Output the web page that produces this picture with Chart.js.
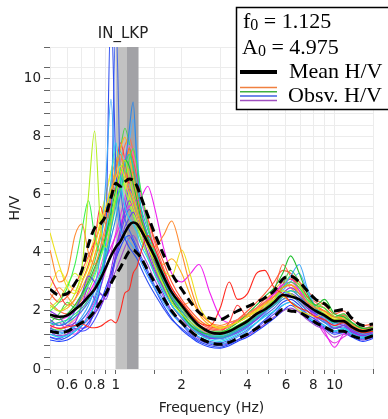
<!DOCTYPE html>
<html>
<head>
<meta charset="utf-8">
<script src="https://cdn.jsdelivr.net/npm/chart.js@4"></script>
<style>
  html, body { margin: 0; padding: 0; background: #fff; }
  #wrap { width: 388px; height: 419px; position: relative; }
</style>
</head>
<body>
<div id="wrap"><canvas id="hvChart"></canvas></div>
<script>
// station + peak values
const STATION = 'IN_LKP';
const F0 = 1.125;
const A0 = 4.975;
const BAND_EDGES = [1.0, 1.125, 1.27];   // f0 -/+ std window

// frequencies (Hz) shared by all curves
const FREQ = [0.5, 0.55, 0.6, 0.65, 0.7, 0.75, 0.8, 0.85, 0.9, 0.95, 1.0, 1.05, 1.1, 1.15, 1.2, 1.25, 1.3, 1.4, 1.5, 1.65, 1.8, 2.0, 2.2, 2.4, 2.7, 3.0, 3.3, 3.6, 4.0, 4.4, 4.8, 5.3, 5.8, 6.3, 6.9, 7.5, 8.2, 9.0, 10, 11, 12, 13.5, 15];

// mean H/V and mean*std, mean/std
const MEAN_HV  = [1.87,1.8,1.85,2.05,2.25,2.5,2.75,3.1,3.5,3.9,4.2,4.4,4.7,4.95,5.05,5.0,4.8,4.35,3.9,3.2,2.65,2.2,1.8,1.5,1.27,1.22,1.3,1.45,1.65,1.9,2.05,2.3,2.55,2.5,2.4,2.2,2.0,1.85,1.65,1.65,1.45,1.3,1.38];
const UPPER_HV = [2.75,2.55,2.6,2.95,3.4,4.3,4.85,5.0,5.3,5.9,6.4,6.3,6.45,6.55,6.5,6.3,5.95,5.3,4.7,3.95,3.3,2.75,2.3,1.95,1.75,1.7,1.85,2.0,2.15,2.3,2.45,2.7,3.1,3.2,3.0,2.7,2.4,2.25,2.0,2.05,1.75,1.5,1.55];
const LOWER_HV = [1.3,1.25,1.3,1.45,1.6,1.75,2.0,2.3,2.6,2.95,3.25,3.5,3.8,4.05,4.1,4.0,3.85,3.4,3.0,2.45,2.0,1.6,1.3,1.08,0.9,0.85,0.92,1.05,1.2,1.4,1.6,1.8,2.05,2.0,1.95,1.8,1.6,1.45,1.3,1.3,1.15,1.05,1.15];

// observed H/V windows
const OBS_01 = [1.5,1.4,1.45,1.5,1.55,1.45,1.42,1.47,1.6,1.7,1.59,2.0,2.62,2.73,3.3,3.53,4.0,4.6,4.2,3.4,2.8,2.3,1.9,1.6,1.5,2.1,3.0,2.4,2.6,3.3,3.4,2.8,2.6,2.3,2.1,2.0,1.8,1.7,1.5,1.6,1.4,1.25,1.3];
const OBS_02 = [4.1,3.0,3.3,4.6,5.0,4.0,3.6,4.2,5.0,6.0,6.8,7.4,6.8,6.2,5.8,5.4,5.0,4.4,4.2,4.6,5.1,4.0,2.8,2.0,1.6,1.5,1.6,1.7,1.9,2.1,2.3,2.5,2.8,2.9,2.6,2.3,2.1,2.0,1.8,1.7,1.5,1.35,1.4];
const OBS_03 = [4.7,3.6,2.8,2.6,3.0,3.5,4.2,5.0,5.6,6.2,6.6,7.0,6.5,6.0,5.6,5.2,4.8,4.2,3.8,3.4,3.2,4.1,3.2,2.2,1.6,1.4,1.5,1.6,1.8,2.0,2.2,2.4,2.5,2.3,2.0,1.9,1.8,1.9,1.7,1.6,1.5,1.3,1.3];
const OBS_04 = [2.2,2.0,2.2,2.6,3.5,6.0,8.2,5.0,4.2,5.0,6.0,6.8,7.2,6.6,6.0,5.5,5.0,4.3,3.6,2.9,2.3,1.9,1.6,1.4,1.25,1.2,1.3,1.45,1.7,1.9,2.1,2.4,2.7,2.6,2.4,2.2,2.0,1.9,1.7,1.7,1.5,1.3,1.4];
const OBS_05 = [1.8,1.7,1.9,2.2,2.6,3.0,3.5,4.0,4.6,5.4,6.2,6.8,7.2,7.0,6.4,5.8,5.2,4.5,3.8,3.0,2.4,1.9,1.5,1.3,1.2,1.25,1.4,1.6,1.9,2.2,2.5,2.8,3.3,3.9,3.3,2.6,2.2,2.4,1.9,1.8,1.6,1.4,1.45];
const OBS_06 = [2.0,2.3,2.8,3.6,4.8,5.8,4.6,4.0,4.5,5.2,5.8,6.2,6.6,7.2,7.6,7.0,6.2,5.0,4.0,3.2,2.6,2.1,1.7,1.45,1.3,1.3,1.35,1.5,1.7,1.9,2.1,2.4,2.8,3.0,2.8,2.4,2.2,2.1,1.8,1.9,1.6,1.4,1.35];
const OBS_07 = [1.5,1.6,1.7,1.9,2.1,2.4,2.8,3.3,4.0,4.8,5.6,6.4,7.0,7.4,7.0,6.3,5.6,4.8,4.1,3.3,2.6,2.0,1.6,1.35,1.15,1.1,1.2,1.35,1.55,1.8,2.0,2.2,2.5,2.7,2.6,2.3,2.1,1.8,1.6,1.7,1.5,1.3,1.35];
const OBS_08 = [1.2,1.1,1.15,1.3,1.5,1.8,2.2,3.0,4.5,6.5,7.8,6.5,5.6,5.2,5.0,4.7,4.3,3.8,3.3,2.7,2.2,1.8,1.45,1.2,1.0,0.95,1.05,1.2,1.4,1.6,1.8,2.0,2.2,2.3,2.1,1.8,1.6,1.5,1.3,1.4,1.2,1.1,1.2];
const OBS_09 = [1.3,1.2,1.3,1.5,1.8,2.2,2.8,4.0,6.5,9.3,6.0,4.8,4.6,4.4,4.2,4.0,3.7,3.2,2.8,2.3,1.9,1.55,1.3,1.1,0.9,0.85,0.95,1.1,1.3,1.6,1.9,2.3,2.8,3.2,3.6,2.8,2.1,1.7,1.3,1.4,1.2,1.05,1.15];
const OBS_10 = [1.6,1.5,1.6,1.8,2.0,2.3,2.7,3.2,3.8,4.5,5.2,6.0,7.0,8.2,9.2,7.0,5.6,4.6,3.9,3.1,2.5,2.0,1.6,1.3,1.1,1.05,1.15,1.3,1.5,1.75,2.0,2.3,2.6,2.7,2.5,2.2,1.95,1.8,1.55,1.6,1.4,1.2,1.3];
const OBS_11 = [1.1,1.0,1.1,1.3,1.5,1.8,2.2,2.8,4.5,12.5,7.0,5.0,4.5,4.2,4.0,3.8,3.5,3.0,2.6,2.1,1.7,1.4,1.15,0.95,0.8,0.75,0.85,1.0,1.2,1.45,1.7,2.0,2.3,2.4,2.2,1.9,1.7,1.5,1.3,1.35,1.2,1.05,1.1];
const OBS_12 = [1.4,1.3,1.35,1.5,1.7,2.0,2.4,3.0,3.8,5.0,12.0,6.5,5.2,4.8,4.5,4.2,3.9,3.4,2.9,2.4,1.95,1.6,1.3,1.1,0.95,0.9,1.0,1.15,1.35,1.6,1.85,2.1,2.4,2.5,2.3,2.0,1.8,1.6,1.4,1.45,1.25,1.1,1.2];
const OBS_13 = [1.7,1.5,1.6,2.0,2.6,3.2,3.0,2.6,2.5,3.0,3.8,4.4,4.9,5.2,5.4,5.2,4.9,4.3,3.7,3.0,2.4,1.9,1.5,1.25,1.1,1.1,1.2,1.35,1.55,1.8,2.0,2.2,2.5,2.6,2.4,2.1,1.9,1.7,1.5,1.55,1.35,1.2,1.3];
const OBS_14 = [2.0,1.8,1.5,1.6,2.2,2.8,2.4,2.2,2.6,3.4,4.2,4.8,5.4,5.8,5.6,5.2,4.8,4.0,3.4,2.8,2.2,1.75,1.4,1.2,1.05,1.05,1.15,1.3,1.5,1.7,1.95,2.2,2.6,2.8,2.6,2.2,1.9,1.7,1.4,1.5,1.3,1.15,1.25];
const OBS_15 = [1.9,1.7,1.8,2.0,2.3,2.6,3.0,3.4,3.8,4.2,4.6,5.0,5.4,5.6,5.7,5.8,5.9,6.3,5.6,4.2,3.3,3.0,3.3,3.6,2.6,1.8,1.6,1.7,1.9,2.1,2.3,2.6,2.9,3.0,2.7,2.3,1.8,1.3,0.75,1.2,1.3,1.1,1.3];
const OBS_16 = [1.5,1.4,1.5,1.7,2.0,2.4,2.9,3.5,4.2,5.0,5.8,6.6,7.3,7.7,7.4,6.8,6.0,5.0,4.2,3.4,2.7,2.1,1.7,1.4,1.2,1.2,1.3,1.45,1.65,1.85,2.05,2.3,2.6,2.8,2.6,2.3,2.0,1.75,1.3,1.4,1.4,1.2,1.3];
const OBS_17 = [2.6,2.3,2.5,2.9,3.4,3.9,4.4,4.9,5.4,5.9,6.3,6.7,7.0,7.6,7.2,6.6,6.0,5.2,4.5,3.7,3.0,2.4,2.0,1.7,1.45,1.4,1.5,1.7,2.0,2.3,2.6,3.0,3.4,3.3,3.0,2.7,2.4,2.2,1.9,2.0,1.7,1.5,1.55];
const OBS_18 = [1.4,1.35,1.5,1.8,2.2,2.7,3.2,3.8,4.4,5.2,6.0,6.6,6.2,5.7,5.3,4.9,4.5,3.9,3.3,2.7,2.2,1.75,1.4,1.2,1.05,1.05,1.15,1.3,1.5,1.75,2.0,2.3,2.8,3.2,2.9,2.4,2.1,2.3,1.8,1.7,1.45,1.25,1.3];
const OBS_19 = [1.2,1.15,1.2,1.35,1.5,1.7,1.9,2.2,2.6,3.0,3.4,3.8,4.2,4.5,4.6,4.4,4.1,3.6,3.1,2.5,2.0,1.6,1.3,1.05,0.9,0.85,0.9,1.0,1.15,1.35,1.55,1.8,2.0,2.1,1.95,1.7,1.5,1.35,1.1,1.2,1.15,1.0,1.1];
const OBS_20 = [2.2,2.0,2.1,2.4,2.8,3.3,3.9,4.6,5.4,6.2,7.0,7.6,8.0,7.4,6.6,5.9,5.2,4.4,3.9,3.6,3.8,3.3,2.5,1.9,1.5,1.4,1.5,1.65,1.85,2.05,2.25,2.5,2.8,2.9,2.7,2.4,2.15,2.0,1.8,1.75,1.5,1.3,1.4];
const OBS_21 = [3.2,2.6,2.2,2.4,3.0,3.6,4.4,5.6,5.0,5.8,6.9,7.8,7.2,6.4,6.8,6.2,5.4,4.6,3.8,3.0,2.5,2.0,1.7,1.5,1.35,1.3,1.6,2.2,1.8,1.9,2.2,2.6,2.9,3.1,2.9,2.5,2.2,2.0,1.8,1.9,1.6,1.4,1.5];
const OBS_22 = [1.6,1.9,2.3,2.1,2.5,3.1,3.7,4.5,5.3,6.0,6.9,7.6,8.3,7.8,6.9,6.0,5.3,4.4,3.6,2.8,2.2,1.8,1.45,1.25,1.1,1.1,1.2,1.4,1.6,1.8,2.1,2.4,2.9,3.4,3.0,2.5,2.1,1.9,1.6,1.8,1.5,1.3,1.35];
const OBS_23 = [1.0,0.95,1.0,1.15,1.35,1.6,1.9,2.3,2.8,3.3,3.8,4.2,4.5,4.6,4.4,4.1,3.8,3.3,2.8,2.2,1.75,1.35,1.1,0.9,0.75,0.72,0.8,0.95,1.1,1.3,1.5,1.75,2.0,2.2,2.0,1.75,1.55,1.4,1.2,1.25,1.1,0.95,1.05];
const OBS_24 = [1.3,1.1,1.2,1.6,1.4,1.5,2.0,2.6,2.4,3.0,4.0,4.8,5.6,6.2,6.0,5.6,5.0,4.2,3.5,2.8,2.2,1.8,1.5,1.3,1.15,1.1,1.15,1.25,1.45,1.7,1.95,2.2,2.5,2.6,2.4,2.1,1.85,1.65,1.4,1.5,1.3,1.15,1.2];
const OBS_25 = [2.4,2.8,2.5,2.2,2.6,3.2,3.9,4.7,5.5,6.4,7.2,7.0,6.6,6.9,6.3,5.6,5.0,4.3,3.6,3.0,2.5,2.2,2.3,2.0,1.6,1.45,1.5,1.6,1.8,2.0,2.3,2.7,3.0,2.8,2.5,2.3,2.2,2.1,1.8,1.8,1.55,1.35,1.45];
const OBS_26 = [1.7,1.5,1.7,2.1,2.5,2.9,3.3,3.9,4.6,5.6,6.8,7.5,6.9,6.2,5.7,5.4,5.1,4.6,3.9,3.1,2.5,2.0,1.6,1.35,1.2,1.15,1.25,1.4,1.6,1.8,2.0,2.2,2.4,2.5,2.3,2.0,1.8,1.6,1.45,1.5,1.35,1.2,1.25];
const OBS_27 = [1.4,1.6,1.3,1.2,1.5,1.9,2.3,2.8,3.4,4.0,4.7,5.3,5.9,6.5,6.9,6.6,6.0,5.0,4.1,3.2,2.5,2.0,1.6,1.4,1.2,1.15,1.25,1.4,1.6,1.85,2.1,2.5,3.0,3.1,2.7,2.2,1.7,1.2,0.9,1.1,1.25,1.15,1.25];
const OBS_28 = [2.8,3.4,3.0,2.7,3.2,3.8,4.6,5.3,6.0,6.8,7.5,7.1,6.6,6.2,5.8,5.4,5.0,4.4,3.8,3.1,2.6,2.2,1.9,1.65,1.5,1.45,1.5,1.65,1.8,2.0,2.2,2.5,2.7,2.6,2.3,2.1,2.0,1.95,1.75,1.65,1.5,1.3,1.4];
const OBS_29 = [1.35,1.25,1.3,1.45,1.7,2.0,2.5,3.1,3.9,4.8,5.8,6.6,7.2,7.8,8.6,7.4,6.0,4.9,4.0,3.1,2.4,1.9,1.5,1.25,1.05,1.0,1.1,1.25,1.45,1.7,1.95,2.3,2.7,3.0,3.3,2.7,2.1,1.8,1.4,1.5,1.3,1.15,1.2];
const OBS_30 = [2.1,2.4,2.9,3.3,3.1,3.6,4.3,5.1,6.0,6.8,7.3,6.8,6.3,5.8,5.4,5.0,4.6,4.0,3.4,2.8,2.3,1.9,1.6,1.4,1.25,1.25,1.35,1.5,1.7,1.95,2.2,2.5,2.8,2.9,2.6,2.3,2.0,2.0,1.7,1.7,1.5,1.3,1.35];
const OBS_31 = [1.1,1.05,1.2,1.4,1.3,1.4,1.7,2.1,2.6,3.2,3.9,4.6,5.2,5.5,5.3,4.9,4.5,3.9,3.3,2.6,2.0,1.55,1.2,1.0,0.85,0.8,0.88,1.0,1.2,1.4,1.65,1.9,2.2,2.3,2.1,1.85,1.6,1.45,1.25,1.3,1.15,1.0,1.1];
const OBS_32 = [2.3,2.0,1.9,2.1,2.4,2.9,3.4,4.0,4.8,5.6,6.4,7.1,7.7,8.0,7.5,6.8,6.1,5.2,4.4,3.5,2.8,2.3,1.9,1.6,1.4,1.35,1.45,1.6,1.8,2.1,2.4,2.7,3.6,3.2,2.8,2.5,2.3,2.1,1.8,1.85,1.6,1.4,1.45];

const OBS_SERIES = [OBS_01, OBS_02, OBS_03, OBS_04, OBS_05, OBS_06, OBS_07, OBS_08, OBS_09, OBS_10,
                    OBS_11, OBS_12, OBS_13, OBS_14, OBS_15, OBS_16, OBS_17, OBS_18, OBS_19, OBS_20,
                    OBS_21, OBS_22, OBS_23, OBS_24, OBS_25, OBS_26, OBS_27, OBS_28, OBS_29, OBS_30,
                    OBS_31, OBS_32];
const OBS_COLORS = ['#ff2a20', '#ff8a30', '#ece020', '#b4f020', '#22c030', '#3cf050', '#20d0a0', '#20d8f0', '#40a8f8', '#2f88e8',
                    '#3050f0', '#4868e8', '#6a40e8', '#9030e0', '#f020f0', '#ff60c0', '#ff5a38', '#80ff40', '#a050d0', '#ffb020',
                    '#ff4040', '#50d050', '#2040ff', '#8040f0', '#ffa040', '#30e0c0', '#e040e0', '#f8f040', '#50b0ff', '#d0f030',
                    '#5050ff', '#ff7050'];

const X_LABELS = [0.6, 0.8, 1, 2, 4, 6, 8, 10];

const pts = vals => FREQ.map((f, i) => ({ x: f, y: vals[i] }));

const datasets = [
  { data: pts(MEAN_HV),  borderColor: '#000', borderWidth: 2.6 },
  { data: pts(UPPER_HV), borderColor: '#000', borderWidth: 3, borderDash: [9, 5] },
  { data: pts(LOWER_HV), borderColor: '#000', borderWidth: 3, borderDash: [9, 5] }
];
OBS_SERIES.forEach((s, i) => {
  datasets.push({ data: pts(s), borderColor: OBS_COLORS[i], borderWidth: 1.1 });
});

// grey window around f0
const peakBand = {
  id: 'peakBand',
  beforeDatasetsDraw(chart) {
    const { ctx, chartArea, scales } = chart;
    const xa = scales.x.getPixelForValue(BAND_EDGES[0]);
    const xb = scales.x.getPixelForValue(BAND_EDGES[1]);
    const xc = scales.x.getPixelForValue(BAND_EDGES[2]);
    ctx.save();
    ctx.fillStyle = '#c2c2c2';
    ctx.fillRect(xa, chartArea.top, xb - xa, chartArea.bottom - chartArea.top);
    ctx.fillStyle = '#a2a2a6';
    ctx.fillRect(xb, chartArea.top, xc - xb, chartArea.bottom - chartArea.top);
    ctx.restore();
  },
  afterDraw(chart) {
    const ctx = chart.ctx;
    ctx.save();
    ctx.font = '15px "DejaVu Sans"';
    ctx.fillStyle = '#222';
    ctx.textAlign = 'center';
    ctx.textBaseline = 'middle';
    ctx.fillText(STATION, chart.scales.x.getPixelForValue(F0) - 4, 34);
    ctx.restore();
  }
};

// boxed legend, top right
function subText(ctx, main, sub, rest, x, y) {
  ctx.font = '22px "Liberation Serif"';
  ctx.fillText(main, x, y);
  x += ctx.measureText(main).width;
  ctx.font = '16px "Liberation Serif"';
  ctx.fillText(sub, x, y + 2);
  x += ctx.measureText(sub).width;
  ctx.font = '22px "Liberation Serif"';
  ctx.fillText(rest, x, y);
}

const legendBox = {
  id: 'legendBox',
  afterDraw(chart) {
    const ctx = chart.ctx;
    ctx.save();
    ctx.fillStyle = '#fff';
    ctx.fillRect(236, 7, 160, 102);
    ctx.strokeStyle = '#000';
    ctx.lineWidth = 1.5;
    ctx.strokeRect(236.5, 7.5, 160, 102);
    ctx.fillStyle = '#000';
    ctx.textAlign = 'left';
    ctx.textBaseline = 'alphabetic';
    subText(ctx, 'f', '0', ' = ' + F0.toFixed(3), 243, 28);
    subText(ctx, 'A', '0', ' = ' + A0.toFixed(3), 242, 54);
    ctx.lineWidth = 4;
    ctx.beginPath(); ctx.moveTo(240, 72); ctx.lineTo(277, 72); ctx.stroke();
    ctx.font = '22px "Liberation Serif"';
    ctx.fillText('Mean H/V', 289, 78);
    const sw = ['#f08040', '#40b040', '#4060e0', '#a050c0'];
    ctx.lineWidth = 1.5;
    sw.forEach((c, i) => {
      ctx.strokeStyle = c;
      ctx.beginPath(); ctx.moveTo(240, 87.5 + i * 4.3); ctx.lineTo(277, 87.5 + i * 4.3); ctx.stroke();
    });
    ctx.fillText('Obsv. H/V', 288, 102);
    ctx.restore();
  }
};

const config = {
  type: 'line',
  data: { datasets: datasets },
  options: {
    responsive: true,
    maintainAspectRatio: false,
    animation: false,
    layout: { padding: { top: 47, right: 15, left: 0, bottom: 0 } },
    elements: {
      point: { radius: 0 },
      line: { cubicInterpolationMode: 'monotone', fill: false }
    },
    plugins: {
      legend: { display: false },
      tooltip: { enabled: false },
      title: { display: false }
    },
    scales: {
      x: {
        type: 'logarithmic',
        min: 0.5,
        max: 15,
        afterFit: s => { s.height = 50; },
        border: { display: false },
        grid: { color: '#ececec', tickColor: '#666', tickLength: 5 },
        ticks: {
          autoSkip: false,
          maxRotation: 0,
          padding: 3,
          color: '#222',
          font: { family: 'DejaVu Sans', size: 13.5 },
          callback: v => X_LABELS.some(t => Math.abs(t - v) < 1e-6) ? String(v) : ''
        },
        title: {
          display: true,
          text: 'Frequency (Hz)',
          color: '#222',
          font: { family: 'DejaVu Sans', size: 14 },
          padding: { top: 4, bottom: 2 }
        }
      },
      y: {
        min: 0,
        max: 11.1,
        afterFit: s => { s.width = 50; },
        border: { display: false },
        grid: { color: '#ececec', tickColor: '#666', tickLength: 6 },
        ticks: {
          stepSize: 0.4,
          autoSkip: false,
          padding: 3,
          color: '#222',
          font: { family: 'DejaVu Sans', size: 13.5 },
          callback: v => (Math.abs(v / 2 - Math.round(v / 2)) < 1e-6 && v < 10.5) ? String(Math.round(v)) : ''
        },
        title: {
          display: true,
          text: 'H/V',
          color: '#222',
          font: { family: 'DejaVu Sans', size: 14 },
          padding: { top: 7, bottom: 0 }
        }
      }
    }
  },
  plugins: [peakBand, legendBox]
};

const hvChart = new Chart(document.getElementById('hvChart'), config);
</script>
</body>
</html>
